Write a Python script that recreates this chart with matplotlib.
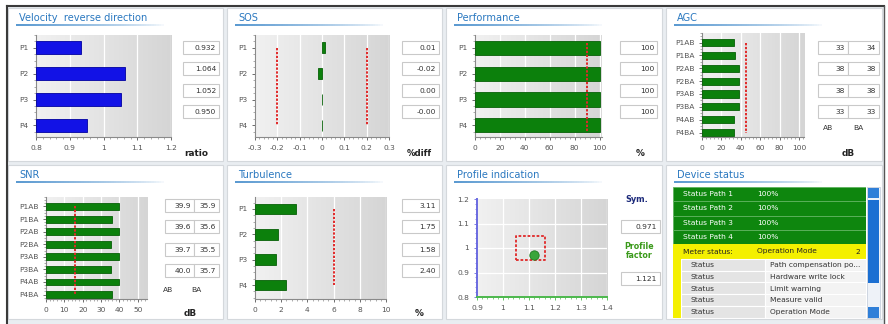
import numpy as np
import matplotlib
matplotlib.use('Agg')
import matplotlib.pyplot as plt
from matplotlib.patches import Rectangle
from matplotlib.collections import LineCollection
from matplotlib.ticker import AutoMinorLocator, MultipleLocator, FuncFormatter
from matplotlib.colors import LinearSegmentedColormap, to_rgb

# ---------------- data ----------------
vel_paths = ['P1', 'P2', 'P3', 'P4']
vel_ratio = [0.932, 1.064, 1.052, 0.950]

sos_paths = ['P1', 'P2', 'P3', 'P4']
sos_diff = [0.012, -0.018, 0.002, -0.001]
sos_limits = [-0.2, 0.2]

perf_paths = ['P1', 'P2', 'P3', 'P4']
perf_pct = [100, 100, 100, 100]
perf_limit = 90

agc_labels = ['P1AB', 'P1BA', 'P2AB', 'P2BA', 'P3AB', 'P3BA', 'P4AB', 'P4BA']
agc_ab = [33, 38, 38, 33]
agc_ba = [34, 38, 38, 33]
agc_limit = 45

snr_labels = ['P1AB', 'P1BA', 'P2AB', 'P2BA', 'P3AB', 'P3BA', 'P4AB', 'P4BA']
snr_ab = [39.9, 39.6, 39.7, 40.0]
snr_ba = [35.9, 35.6, 35.5, 35.7]
snr_limit = 16

turb_paths = ['P1', 'P2', 'P3', 'P4']
turb_pct = [3.11, 1.75, 1.58, 2.40]
turb_limit = 6

prof_factor = 1.121
prof_sym = 0.971
prof_box_x = [1.05, 1.16]
prof_box_y = [0.95, 1.05]

status_paths = ['Status Path 1', 'Status Path 2', 'Status Path 3', 'Status Path 4']
status_path_vals = ['100%', '100%', '100%', '100%']
meter_status = ['Meter status:', 'Operation Mode', '2']
status_items = ['Path compensation po...', 'Hardware write lock', 'Limit warning',
                'Measure valid', 'Operation Mode']

# ---------------- figure ----------------
W, H = 888, 324
fig = plt.figure(figsize=(W / 100, H / 100), dpi=100)
fig.patch.set_facecolor('white')

bg = fig.add_axes([0, 0, 1, 1])
bg.set_xlim(0, W)
bg.set_ylim(H, 0)
bg.axis('off')


def fax(x0, y0, x1, y1):
    return fig.add_axes([x0 / W, 1 - y1 / H, (x1 - x0) / W, (y1 - y0) / H])


# frame & gaps
bg.add_patch(Rectangle((7, 6), 877, 330, facecolor='#e9edf1', edgecolor='none', zorder=0))
bg.plot([7, 884], [6, 6], color='#3a3a3a', lw=1.5, zorder=5)
bg.plot([7, 7], [6, 324], color='#3a3a3a', lw=1.5, zorder=5)
bg.plot([884, 884], [6, 324], color='#555555', lw=1.0, zorder=5)

col_x = [(8, 223), (227, 442), (446, 662), (666, 882)]
row_y = [(8, 161), (165, 319)]
for (ya, yb) in row_y:
    for (xa, xb) in col_x:
        bg.add_patch(Rectangle((xa, ya), xb - xa, yb - ya, facecolor='white',
                               edgecolor='#d4d8dc', lw=0.8, zorder=1))

title_blue = '#2a78c0'


def panel_title(x, y, text):
    bg.text(x + 5, y + 9, text, color=title_blue, fontsize=7.1, ha='left', va='center', zorder=3)
    xs = np.linspace(x + 2, x + 150, 60)
    segs = [[(xs[i], y + 16), (xs[i + 1], y + 16)] for i in range(len(xs) - 1)]
    c = np.array(to_rgb('#3b86c8'))
    cols = [(*c, max(0.0, 1 - i / 59) ** 0.7) for i in range(len(xs) - 1)]
    bg.add_collection(LineCollection(segs, colors=cols, linewidths=1.2, zorder=3))


titles = ['Velocity  reverse direction', 'SOS', 'Performance', 'AGC',
          'SNR', 'Turbulence', 'Profile indication', 'Device status']
k = 0
for (ya, yb) in row_y:
    for (xa, xb) in col_x:
        panel_title(xa + 6, ya + 1, titles[k])
        k += 1

grad_cmap = LinearSegmentedColormap.from_list('g', ['#f1f1f1', '#d5d5d5'])
tick_col = '#555555'
FS = 5.4


def style_axes(ax, xlim, xticks, ylim, fmt=None):
    grad = np.linspace(0, 1, 256).reshape(1, -1)
    ax.imshow(grad, extent=[0, 1, 0, 1], transform=ax.transAxes, aspect='auto',
              cmap=grad_cmap, zorder=0, interpolation='bicubic')
    ax.set_xlim(*xlim)
    ax.set_ylim(*ylim)
    ax.set_xticks(xticks)
    if fmt is not None:
        ax.xaxis.set_major_formatter(FuncFormatter(fmt))
    ax.xaxis.set_minor_locator(AutoMinorLocator(5))
    for sp in ['top', 'right']:
        ax.spines[sp].set_visible(False)
    for sp in ['left', 'bottom']:
        ax.spines[sp].set_color('#8a8a8a')
        ax.spines[sp].set_linewidth(0.8)
    ax.tick_params(axis='both', which='major', labelsize=FS, colors=tick_col, length=2.5,
                   width=0.6, pad=3)
    ax.tick_params(axis='both', which='minor', length=1.5, width=0.5, colors='#8a8a8a')
    for xt in xticks:
        ax.axvline(xt, color='white', lw=0.9, zorder=1)
    ax.set_facecolor('none')


def gfmt(v, p):
    return f"{round(v, 3):g}"


def value_boxes(x0, x1, tops, texts, h=13):
    for t, s in zip(tops, texts):
        bg.add_patch(Rectangle((x0, t), x1 - x0, h, facecolor='white', edgecolor='#c9c9c9',
                               lw=0.8, zorder=3))
        bg.text(x1 - 3, t + h / 2 + 0.5, s, fontsize=FS, color='#333333', ha='right',
                va='center', zorder=4)


def hbars(rect, cats, vals, xlim, xticks, color, edge, height, ylim, left=0.0,
          limits=(), lim_span=None):
    ax = fax(*rect)
    y = np.arange(len(cats))
    style_axes(ax, xlim, xticks, ylim, gfmt)
    ax.barh(y, np.array(vals, float) - left, left=left, height=height, color=color,
            edgecolor=edge, lw=0.6, zorder=3)
    ax.set_yticks(y)
    ax.set_yticklabels(cats)
    ax.yaxis.set_minor_locator(MultipleLocator(0.25))
    if lim_span is None:
        lim_span = (y[0], y[-1])
    for lv in limits:
        ax.plot([lv, lv], lim_span, color='#e02828', lw=1.4, ls=(0, (1.2, 0.8)), zorder=4)
    return ax


red = '#e02828'
green = '#0c800c'
gedge = '#066006'

# ---- Panel 1: velocity ratio ----
hbars((36, 35, 171, 137), vel_paths, vel_ratio, (0.8, 1.2), [0.8, 0.9, 1.0, 1.1, 1.2],
      '#1212e6', '#0000a0', 0.5, (3.45, -0.5), left=0.8)
value_boxes(183, 219, [41, 62, 84, 105], [f"{v:.3f}" for v in vel_ratio])
bg.text(196, 153, 'ratio', fontsize=6.4, fontweight='bold', color='#222222', ha='center', va='center')

# ---- Panel 2: SOS ----
hbars((255, 35, 389, 137), sos_paths, sos_diff, (-0.3, 0.3),
      [-0.3, -0.2, -0.1, 0, 0.1, 0.2, 0.3], green, gedge, 0.42, (3.45, -0.5),
      limits=sos_limits)
value_boxes(402, 439, [41, 62, 84, 105], [f"{v:.2f}" for v in sos_diff])
bg.text(419, 153, '%diff', fontsize=6.2, fontweight='bold', color='#222222', ha='center', va='center')

# ---- Panel 3: performance ----
hbars((475, 35, 602, 137), perf_paths, perf_pct, (0, 102), [0, 20, 40, 60, 80, 100],
      green, gedge, 0.55, (3.45, -0.5), limits=[perf_limit], lim_span=(-0.2, 3.2))
value_boxes(620, 657, [41, 62, 84, 105], [f"{v:.0f}" for v in perf_pct])
bg.text(640, 153, '%', fontsize=6.4, fontweight='bold', color='#222222', ha='center', va='center')

# ---- Panel 4: AGC ----
agc_vals = [v for pair in zip(agc_ab, agc_ba) for v in pair]
hbars((702, 33, 804, 137), agc_labels, agc_vals, (0, 105), [0, 20, 40, 60, 80, 100],
      green, gedge, 0.55, (7.35, -0.75), limits=[agc_limit])
value_boxes(818, 848, [41, 62, 84, 105], [f"{v:.0f}" for v in agc_ab])
value_boxes(848, 879, [41, 62, 84, 105], [f"{v:.0f}" for v in agc_ba])
bg.text(828, 128, 'AB', fontsize=FS, color='#333333', ha='center', va='center')
bg.text(858, 128, 'BA', fontsize=FS, color='#333333', ha='center', va='center')
bg.text(848, 153, 'dB', fontsize=6.4, fontweight='bold', color='#222222', ha='center', va='center')

# ---- Panel 5: SNR ----
snr_vals = [v for pair in zip(snr_ab, snr_ba) for v in pair]
hbars((46, 197, 147, 299), snr_labels, snr_vals, (0, 55), [0, 10, 20, 30, 40, 50],
      green, gedge, 0.55, (7.35, -0.75), limits=[snr_limit])
value_boxes(165, 194, [199, 220, 243, 264], [f"{v:.1f}" for v in snr_ab])
value_boxes(194, 219, [199, 220, 243, 264], [f"{v:.1f}" for v in snr_ba])
bg.text(168, 290, 'AB', fontsize=FS, color='#333333', ha='center', va='center')
bg.text(196, 290, 'BA', fontsize=FS, color='#333333', ha='center', va='center')
bg.text(190, 313, 'dB', fontsize=6.4, fontweight='bold', color='#222222', ha='center', va='center')

# ---- Panel 6: turbulence ----
hbars((255, 197, 386, 299), turb_paths, turb_pct, (0, 10), [0, 2, 4, 6, 8, 10],
      green, gedge, 0.42, (3.55, -0.47), limits=[turb_limit])
value_boxes(402, 439, [199, 220, 243, 264], [f"{v:.2f}" for v in turb_pct])
bg.text(419, 313, '%', fontsize=6.4, fontweight='bold', color='#222222', ha='center', va='center')

# ---- Panel 7: profile indication ----
ax7 = fax(477, 199, 607, 297)
style_axes(ax7, (0.9, 1.4), [0.9, 1.0, 1.1, 1.2, 1.3, 1.4], (0.8, 1.2), gfmt)
ax7.set_yticks([0.8, 0.9, 1.0, 1.1, 1.2])
ax7.yaxis.set_major_formatter(FuncFormatter(gfmt))
ax7.yaxis.set_minor_locator(AutoMinorLocator(5))
for yt in [0.9, 1.0, 1.1]:
    ax7.axhline(yt, color='white', lw=0.9, zorder=1)
ax7.spines['left'].set_color('#6a6ae0')
ax7.spines['left'].set_linewidth(1.4)
ax7.spines['bottom'].set_color('#4cb84c')
ax7.spines['bottom'].set_linewidth(1.4)
ax7.tick_params(axis='y', which='both', color='#6a6ae0')
ax7.tick_params(axis='x', which='both', color='#4cb84c')
bx = [prof_box_x[0], prof_box_x[1], prof_box_x[1], prof_box_x[0], prof_box_x[0]]
by = [prof_box_y[0], prof_box_y[0], prof_box_y[1], prof_box_y[1], prof_box_y[0]]
ax7.plot(bx, by, color=red, lw=1.3, ls=(0, (1.5, 1)), zorder=4)
ax7.scatter([prof_factor], [prof_sym], s=45, color='#3aa53a', edgecolor='#1e7a1e',
            lw=0.6, zorder=5)
bg.text(637, 200, 'Sym.', fontsize=5.9, fontweight='bold', color='#1c2a7a', ha='center', va='center')
value_boxes(621, 660, [220], [f"{prof_sym:.3f}"])
bg.text(639, 251, 'Profile\nfactor', fontsize=5.7, fontweight='bold', color='#3a9a1a',
        ha='center', va='center', linespacing=1.1)
value_boxes(621, 660, [272], [f"{prof_factor:.3f}"])

# ---- Panel 8: device status ----
ax8 = fax(673, 187, 866, 318)
ax8.set_xlim(673, 866)
ax8.set_ylim(318, 187)
ax8.axis('off')
row_h = (244 - 187) / 4
for i, (nm, vv) in enumerate(zip(status_paths, status_path_vals)):
    y0 = 187 + i * row_h
    ax8.add_patch(Rectangle((673, y0), 193, row_h, facecolor='#0e860e', edgecolor='#5fb35f', lw=0.6))
    ax8.text(683, y0 + row_h / 2, nm, fontsize=FS, color='white', va='center', ha='left')
    ax8.text(757, y0 + row_h / 2, vv, fontsize=FS, color='white', va='center', ha='left')
ax8.add_patch(Rectangle((673, 244), 193, 15, facecolor='#f4f000', edgecolor='none'))
ax8.text(683, 251.5, meter_status[0], fontsize=FS, color='#222222', va='center', ha='left')
ax8.text(757, 251.5, meter_status[1], fontsize=FS, color='#222222', va='center', ha='left')
ax8.text(855, 251.5, meter_status[2], fontsize=FS, color='#222222', va='center', ha='left')
ax8.add_patch(Rectangle((673, 259), 8, 60, facecolor='#f4f000', edgecolor='none'))
sh = 11.7
for i, item in enumerate(status_items):
    y0 = 259 + i * sh
    ax8.add_patch(Rectangle((681, y0), 84, sh, facecolor='#e4e4e4', edgecolor='white', lw=0.8))
    ax8.add_patch(Rectangle((765, y0), 101, sh, facecolor='#f3f3f3', edgecolor='white', lw=0.8))
    ax8.text(690, y0 + sh / 2 + 0.5, 'Status', fontsize=FS, color='#333333', va='center',
             ha='left', clip_on=True)
    ax8.text(770, y0 + sh / 2 + 0.5, item, fontsize=FS, color='#333333', va='center',
             ha='left', clip_on=True)
# scrollbar
bg.add_patch(Rectangle((867, 187), 13, 131, facecolor='#eef2f8', edgecolor='#c8d0dc', lw=0.6, zorder=3))
bg.add_patch(Rectangle((868, 188), 11, 10, facecolor='#2f7fd8', edgecolor='none', zorder=4))
bg.add_patch(Rectangle((868, 200), 11, 83, facecolor='#1b6fd2', edgecolor='none', zorder=4))
bg.add_patch(Rectangle((868, 307), 11, 11, facecolor='#2f7fd8', edgecolor='none', zorder=4))

fig.savefig('out.png', dpi=100)
